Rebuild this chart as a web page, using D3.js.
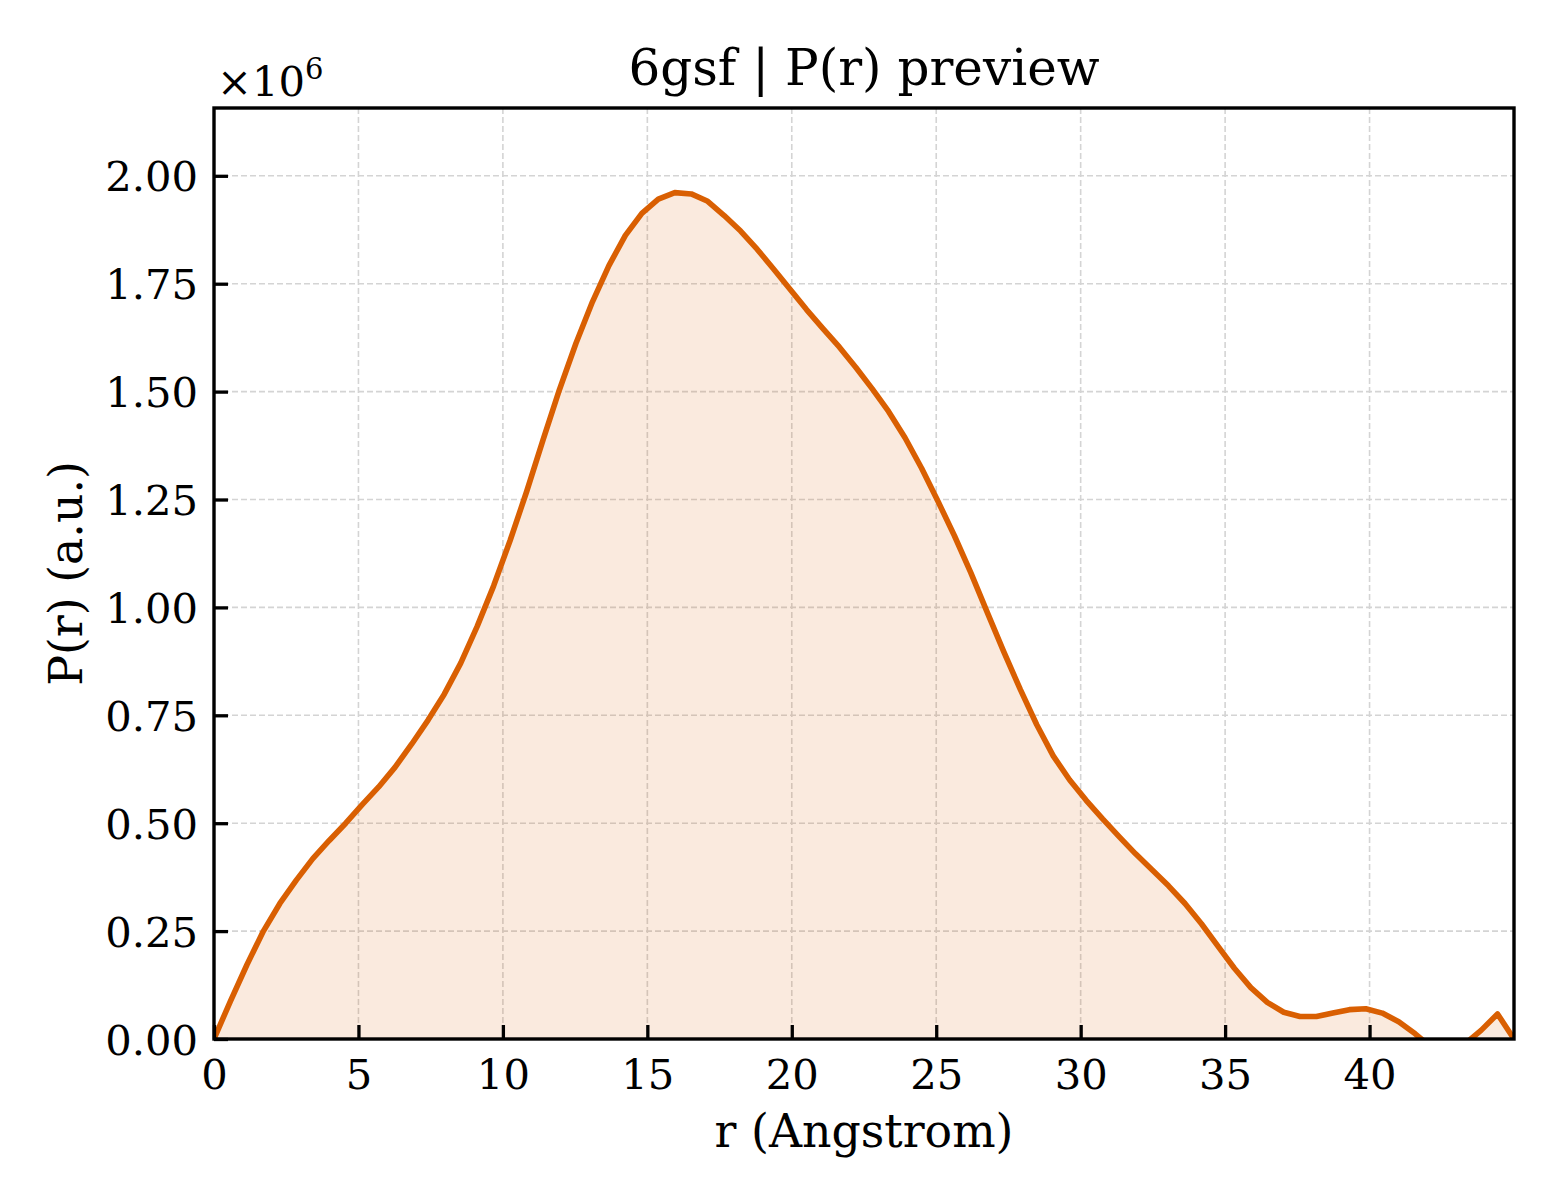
<!DOCTYPE html>
<html>
<head>
<meta charset="utf-8">
<script src="https://cdn.jsdelivr.net/npm/d3@7"></script>
<style>
  body { margin: 0; background: #ffffff; }
  svg { display: block; font-family: "DejaVu Serif", serif; }
</style>
</head>
<body>
<div id="chart"></div>
<script>
// P(r) samples, r in Angstrom, P in units of 1e6
const rValues = [
    0.00, 0.57, 1.14, 1.71, 2.28, 2.85, 3.42, 3.99, 4.56, 5.13,
    5.70, 6.27, 6.84, 7.41, 7.97, 8.54, 9.11, 9.68, 10.25, 10.82,
    11.39, 11.96, 12.53, 13.10, 13.67, 14.24, 14.81, 15.38, 15.95, 16.52,
    17.09, 17.66, 18.23, 18.80, 19.37, 19.94, 20.51, 21.08, 21.65, 22.22,
    22.78, 23.35, 23.92, 24.49, 25.06, 25.63, 26.20, 26.77, 27.34, 27.91,
    28.48, 29.05, 29.62, 30.19, 30.76, 31.33, 31.90, 32.47, 33.04, 33.61,
    34.18, 34.75, 35.32, 35.89, 36.46, 37.03, 37.59, 38.16, 38.73, 39.30,
    39.87, 40.44, 41.01, 41.58, 42.15, 42.72, 43.29, 43.86, 44.43, 45.00
];
const pValues = [
    0.000, 0.088, 0.172, 0.250, 0.314, 0.368, 0.418, 0.460, 0.500, 0.543,
    0.584, 0.630, 0.683, 0.739, 0.799, 0.871, 0.956, 1.050, 1.155, 1.268,
    1.388, 1.505, 1.612, 1.708, 1.792, 1.862, 1.913, 1.946, 1.961, 1.958,
    1.941, 1.908, 1.872, 1.830, 1.784, 1.737, 1.690, 1.646, 1.603, 1.556,
    1.507, 1.454, 1.393, 1.323, 1.246, 1.166, 1.080, 0.988, 0.897, 0.810,
    0.728, 0.656, 0.600, 0.553, 0.510, 0.469, 0.429, 0.392, 0.355, 0.314,
    0.267, 0.215, 0.164, 0.119, 0.085, 0.062, 0.052, 0.052, 0.060, 0.068,
    0.070, 0.060, 0.040, 0.012, -0.020, -0.030, -0.012, 0.020, 0.058, 0.000
];
const xTicks = [0, 5, 10, 15, 20, 25, 30, 35, 40];
const yTicks = [0, 0.25, 0.5, 0.75, 1.0, 1.25, 1.5, 1.75, 2.0];

const titleText = "6gsf | P(r) preview";
const xLabel = "r (Angstrom)";
const yLabel = "P(r) (a.u.)";
const lineColor = "#d95f02";

const width = 1560, height = 1200;
const margin = { top: 108, right: 46, bottom: 161, left: 214 };
const plotW = width - margin.left - margin.right;
const plotH = height - margin.top - margin.bottom;

const data = rValues.map((r, i) => ({ r: r, p: pValues[i] }));

const svg = d3.select('#chart').append('svg')
    .attr('width', width)
    .attr('height', height);

const x = d3.scaleLinear().domain([0, 45]).range([0, plotW]);
const y = d3.scaleLinear().domain([0, d3.max(pValues) * 1.1]).range([plotH, 0]);

const g = svg.append('g').attr('transform', `translate(${margin.left},${margin.top})`);

svg.append('defs').append('clipPath').attr('id', 'plotClip')
    .append('rect').attr('width', plotW).attr('height', plotH);

// grid lines
g.append('g').selectAll('line').data(xTicks).enter().append('line')
    .attr('x1', d => x(d)).attr('x2', d => x(d))
    .attr('y1', 0).attr('y2', plotH)
    .attr('stroke', '#d4d4d4').attr('stroke-width', 1.6)
    .attr('stroke-dasharray', '6,3');
g.append('g').selectAll('line').data(yTicks).enter().append('line')
    .attr('x1', 0).attr('x2', plotW)
    .attr('y1', d => y(d)).attr('y2', d => y(d))
    .attr('stroke', '#d4d4d4').attr('stroke-width', 1.6)
    .attr('stroke-dasharray', '6,3');

// filled area + curve
const plot = g.append('g').attr('clip-path', 'url(#plotClip)');
plot.append('path')
    .datum(data)
    .attr('d', d3.area().x(d => x(d.r)).y0(y(0)).y1(d => y(d.p)))
    .attr('fill', lineColor)
    .attr('fill-opacity', 0.13);
plot.append('path')
    .datum(data)
    .attr('d', d3.line().x(d => x(d.r)).y(d => y(d.p)))
    .attr('fill', 'none')
    .attr('stroke', lineColor)
    .attr('stroke-width', 5.6)
    .attr('stroke-linejoin', 'round');

// axes with inward ticks
const xAxis = g.append('g')
    .attr('transform', `translate(0,${plotH})`)
    .call(d3.axisBottom(x).tickValues(xTicks).tickFormat(d3.format('d'))
        .tickSizeInner(-14).tickSizeOuter(0).tickPadding(20));
const yAxis = g.append('g')
    .call(d3.axisLeft(y).tickValues(yTicks).tickFormat(d3.format('.2f'))
        .tickSizeInner(-14).tickSizeOuter(0).tickPadding(16));

[xAxis, yAxis].forEach(ax => {
    ax.select('.domain').remove();
    ax.selectAll('.tick line').attr('stroke', '#000').attr('stroke-width', 3.3);
    ax.selectAll('.tick text')
        .attr('fill', '#000')
        .style('font-family', '"DejaVu Serif", serif')
        .style('font-size', '41.7px');
});
xAxis.selectAll('.tick text').attr('dy', '0.71em');
yAxis.selectAll('.tick text').attr('dy', '0.36em');

// frame
g.append('rect')
    .attr('width', plotW).attr('height', plotH)
    .attr('fill', 'none').attr('stroke', '#000').attr('stroke-width', 3.4);

// title and labels
svg.append('text')
    .attr('x', margin.left + plotW / 2).attr('y', 85)
    .attr('text-anchor', 'middle')
    .style('font-size', '50px')
    .text(titleText);

svg.append('text')
    .attr('x', margin.left + plotW / 2).attr('y', 1147)
    .attr('text-anchor', 'middle')
    .style('font-size', '45.8px')
    .text(xLabel);

svg.append('text')
    .attr('transform', `translate(82,${margin.top + plotH / 2}) rotate(-90)`)
    .attr('text-anchor', 'middle')
    .style('font-size', '45.8px')
    .text(yLabel);

// offset text ×10^6
const offset = svg.append('text')
    .attr('x', 217).attr('y', 96)
    .style('font-size', '41.7px');
offset.append('tspan').text('\u00d710');
offset.append('tspan')
    .attr('dy', -17)
    .style('font-size', '29px')
    .text('6');
</script>
</body>
</html>
